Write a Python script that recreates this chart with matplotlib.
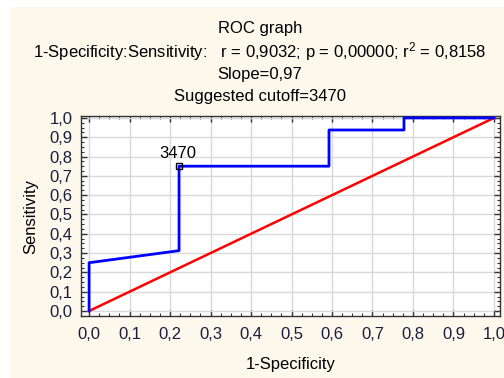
import matplotlib
matplotlib.use("Agg")
import matplotlib.pyplot as plt
from matplotlib.patches import Rectangle
from matplotlib.ticker import MultipleLocator, FuncFormatter

plt.rcParams['font.family'] = ['Liberation Sans', 'DejaVu Sans']
plt.rcParams['mathtext.fontset'] = 'custom'
plt.rcParams['mathtext.rm'] = 'Liberation Sans'
plt.rcParams['mathtext.it'] = 'Liberation Sans'

# ROC curve points (1-Specificity, Sensitivity)
fpr = [0.0, 0.0, 0.2222, 0.2222, 0.5926, 0.5926, 0.7778, 0.7778, 1.0]
tpr = [0.0, 0.25, 0.3125, 0.75, 0.75, 0.9375, 0.9375, 1.0, 1.0]
cutoff_point = (0.2222, 0.75)
cutoff_label = "3470"

title_lines = [
    "ROC graph",
    "1-Specificity:Sensitivity:   r = 0,9032; p = 0,00000; r$^2$ = 0,8158",
    "Slope=0,97",
    "Suggested cutoff=3470",
]
title_y = [29, 52, 75, 96]

W, H = 504, 378
fig = plt.figure(figsize=(W / 100, H / 100), dpi=100)
fig.patch.set_facecolor('white')
# cream panel behind everything
fig.patches.append(Rectangle((10 / W, 0), 1, 1 - 7 / H, transform=fig.transFigure,
                             facecolor='#fdf8ec', edgecolor='none', zorder=-10))

ax = fig.add_axes([81 / W, 1 - 316 / H, (500 - 81) / W, (316 - 116) / H])
ax.set_facecolor('white')

ax.plot([0, 1], [0, 1], color='#ff0000', lw=1.8, zorder=3)
ax.plot(fpr, tpr, color='#0000ff', lw=2.0, zorder=4)
ax.plot(*cutoff_point, marker='s', ms=5, mfc='none', mec='black', mew=1.0, zorder=5)
ax.annotate(cutoff_label, cutoff_point, xytext=(-1, 4), textcoords='offset points',
            ha='center', va='bottom', fontsize=12, color='black')

ax.set_xlim(-0.02, 1.015)
ax.set_ylim(-0.026, 1.01)

fmt = FuncFormatter(lambda v, p: f"{v:.1f}".replace('.', ','))
ax.xaxis.set_major_locator(MultipleLocator(0.1))
ax.yaxis.set_major_locator(MultipleLocator(0.1))
ax.xaxis.set_minor_locator(MultipleLocator(0.025))
ax.yaxis.set_minor_locator(MultipleLocator(0.025))
ax.xaxis.set_major_formatter(fmt)
ax.yaxis.set_major_formatter(fmt)
ax.grid(True, which='major', color='#d9d9d9', lw=1.0, zorder=0)
ax.set_axisbelow(True)
ax.tick_params(which='both', direction='in', top=True, right=True, colors='#333333',
               labelcolor='#1c1c3c', labelsize=12)
ax.tick_params(which='major', length=4, width=1)
ax.tick_params(axis='y', which='major', pad=6)
ax.tick_params(axis='x', which='major', pad=8)
ax.tick_params(which='minor', length=2, width=0.8)
for s in ax.spines.values():
    s.set_color('#333333')
    s.set_linewidth(1.0)

ax.set_xlabel("1-Specificity", fontsize=12, labelpad=11)
ax.set_ylabel("Sensitivity", fontsize=12, labelpad=8)

for line, yy in zip(title_lines, title_y):
    fig.text(260 / W, 1 - yy / H, line, ha='center', va='center', fontsize=12)

fig.savefig("out.png", dpi=100)
